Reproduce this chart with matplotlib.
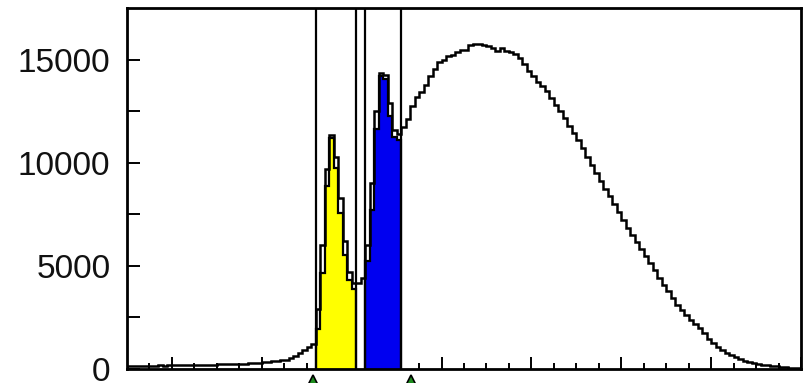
import numpy as np
import matplotlib
matplotlib.use("Agg")
import matplotlib.pyplot as plt
from matplotlib.ticker import FixedLocator, NullFormatter
import matplotlib.transforms as mtransforms

# ---- data ----
bin_edges = list(range(-10, 141))          # 150 bins of width 1
total_counts = [
    150, 140, 150, 160, 150, 160, 160, 170, 160, 170,
    170, 180, 170, 180, 190, 190, 200, 200, 210, 210,
    220, 220, 230, 240, 250,
    260, 260, 270, 290, 300,
    330, 350, 370, 390, 420,
    460, 540, 620, 780, 940, 1080, 1230,
    2900, 6000, 9700, 11350, 10300, 8300, 6200, 4700, 4150, 4160, 4420,
    6000, 9000, 12500, 14350, 14250, 12900, 11600, 11400,
    11750, 12100, 12770, 13200, 13450, 13770, 14180, 14530, 14870, 15000,
    15160, 15240, 15380, 15450, 15470, 15730, 15770, 15750, 15710, 15670,
    15570, 15410, 15580,
    15400, 15380, 15250, 15100, 14800, 14450, 14180, 13920, 13700, 13480,
    13120, 12820, 12490, 12150, 11800, 11420, 11080, 10700, 10290, 9900,
    9500, 9120, 8720, 8380, 7980, 7620, 7230, 6850, 6480, 6150,
    5800, 5480, 5120, 4780, 4420, 4080, 3780, 3450, 3100,
    2860, 2620, 2390, 2180, 1980, 1750, 1450, 1260, 1080, 920,
    790, 680, 570, 480, 410, 340, 290, 260, 210, 180,
    150, 130, 100, 90, 70, 60, 50,
]
yellow_edges = list(range(32, 42))
yellow_counts = [1950, 4650, 8850, 11220, 9740, 7570, 5530, 4320, 3880]
blue_edges = list(range(43, 52))
blue_counts = [5250, 7700, 11630, 14200, 14050, 12280, 11250, 11100]
cut_positions = [32, 41, 43, 51]
arrow_positions = [31.5, 53.2]
y_tick_values = [0, 5000, 10000, 15000]
y_tick_labels = ["0", "5000", "10000", "15000"]

# ---- figure ----
W, H = 807, 383
fig = plt.figure(figsize=(W / 100, H / 100), dpi=100)
ax = fig.add_axes([127 / W, (H - 369) / H, 674 / W, 361 / H])

ax.stairs(yellow_counts, yellow_edges, fill=True, color="#FFFF00", zorder=2)
ax.stairs(yellow_counts, yellow_edges, baseline=0, color="black", lw=1.6, zorder=3)
ax.stairs(blue_counts, blue_edges, fill=True, color="#0000F0", zorder=2)
ax.stairs(blue_counts, blue_edges, baseline=0, color="black", lw=1.6, zorder=3)
ax.stairs(total_counts, bin_edges, color="black", lw=1.8, zorder=4)

for c in cut_positions:
    ax.axvline(c, color="black", lw=1.6, zorder=5)

ax.set_xlim(-10, 140)
ax.set_ylim(0, 17500)

# ticks
ax.xaxis.set_major_locator(FixedLocator(list(range(0, 141, 20))))
ax.xaxis.set_minor_locator(FixedLocator(list(range(-5, 140, 5))))
ax.xaxis.set_major_formatter(NullFormatter())
ax.set_yticks(y_tick_values)
ax.set_yticklabels(y_tick_labels)
ax.yaxis.set_minor_locator(FixedLocator([2500, 7500, 12500]))
ax.tick_params(axis="x", which="major", direction="in", length=9, width=1.4, top=False)
ax.tick_params(axis="x", which="minor", direction="in", length=4.5, width=1.4, top=False)
ax.tick_params(axis="y", which="both", direction="in", length=9.4, width=1.4, right=False,
               pad=12)
for lab in ax.get_yticklabels():
    lab.set_fontfamily("Liberation Sans")
    lab.set_fontsize(24)
    lab.set_color("#111111")

for s in ax.spines.values():
    s.set_linewidth(2.0)
    s.set_color("black")

# green arrow markers below the axis
trans = mtransforms.blended_transform_factory(ax.transData, ax.transAxes)
ax.plot(arrow_positions, [-0.036] * len(arrow_positions), linestyle="none", marker="^",
        markersize=10, markerfacecolor="#1E8C1E", markeredgecolor="black",
        markeredgewidth=1.2, transform=trans, clip_on=False, zorder=6)

fig.savefig("out.png", dpi=100)
